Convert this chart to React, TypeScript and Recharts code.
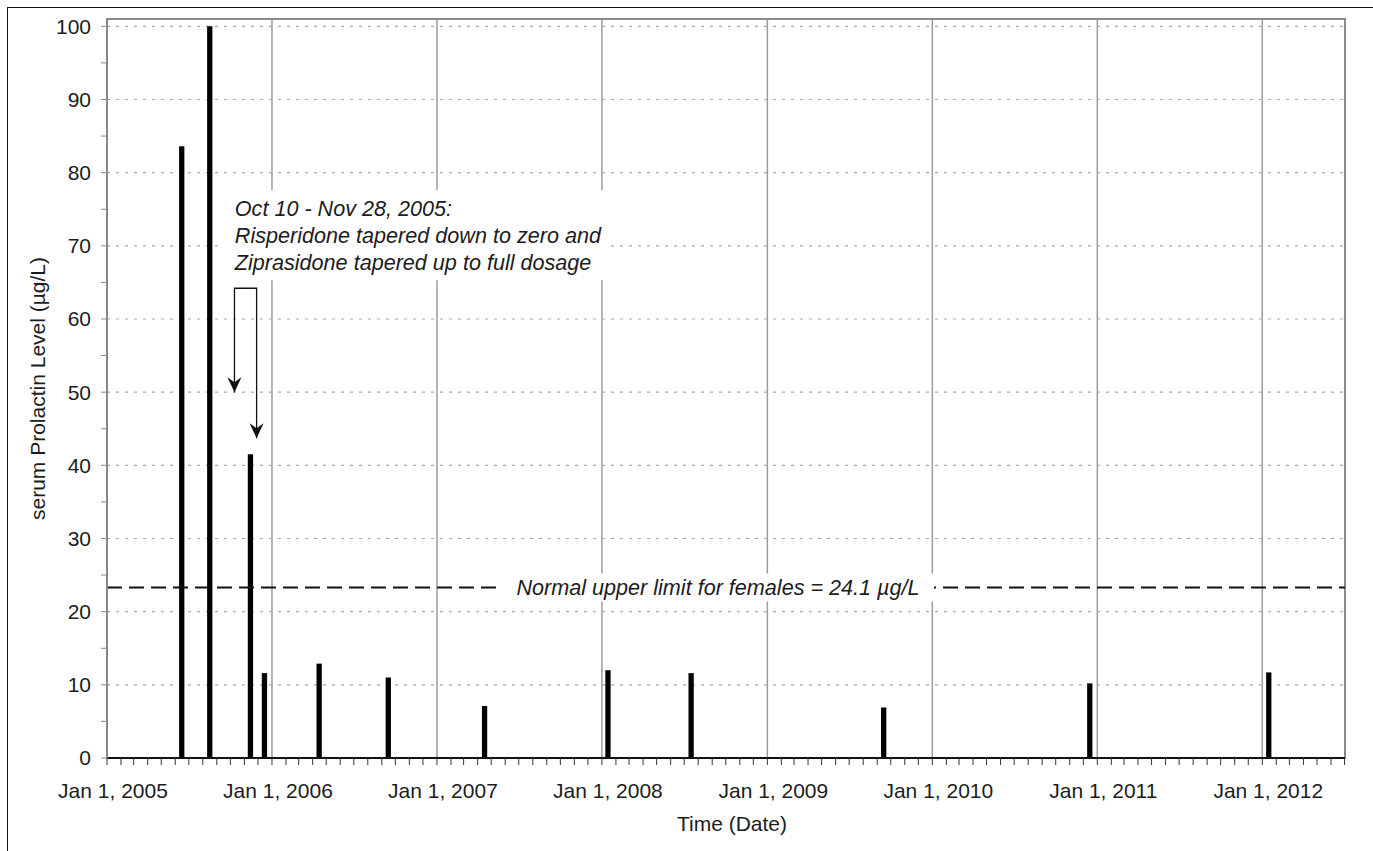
import { Bar, CartesianGrid, ComposedChart, Line, ReferenceArea, ReferenceLine, XAxis, YAxis } from "recharts"

const FONT = '"Liberation Sans", Arial, Helvetica, sans-serif'
const TEXT = "#1c1c1c"

// measurement dates and serum prolactin (µg/L)
const DATES = [
    "2005-06-16", "2005-08-17", "2005-11-15", "2005-12-16", "2006-04-16", "2006-09-16",
    "2007-04-17", "2008-01-15", "2008-07-17", "2009-09-16", "2010-12-16", "2012-01-16",
]
const PROLACTIN = [83.6, 100, 41.5, 11.6, 12.9, 11.0, 7.1, 12.0, 11.6, 6.9, 10.2, 11.7]

const YEARS = [2005, 2006, 2007, 2008, 2009, 2010, 2011, 2012]
const X_START = Date.parse("2005-01-01")
const X_END = Date.parse("2012-07-02")
const Y_MAX = 101
const Y_TICKS = [0, 5, 10, 15, 20, 25, 30, 35, 40, 45, 50, 55, 60, 65, 70, 75, 80, 85, 90, 95, 100]
const Y_GRID = [0, 10, 20, 30, 40, 50, 60, 70, 80, 90, 100]

// drawn height of the reference line and its label
const UPPER_LIMIT = 23.3
const UPPER_LIMIT_LABEL = "Normal upper limit for females = 24.1 µg/L"

// switch-over note and its two arrows (Oct 10 / Nov 28, 2005)
const NOTE_LINES = [
    "Oct 10 - Nov 28, 2005:",
    "Risperidone tapered down to zero and",
    "Ziprasidone tapered up to full dosage",
]
const NOTE_BOX_X = ["2005-09-12", "2008-01-14"]
const NOTE_BOX_Y = [65.3, 77.6]
const ARROW_DATES = ["2005-10-10", "2005-11-28"]
const ARROW_TIPS = [50, 43.7]
const ARROW_TOP = 64.2

const data = DATES.map((d, i) => ({ t: Date.parse(d), v: PROLACTIN[i] }))

const bracket = [
    { t: Date.parse(ARROW_DATES[0]), v: ARROW_TIPS[0] },
    { t: Date.parse(ARROW_DATES[0]), v: ARROW_TOP },
    { t: Date.parse(ARROW_DATES[1]), v: ARROW_TOP },
    { t: Date.parse(ARROW_DATES[1]), v: ARROW_TIPS[1] },
]

const monthTicks = YEARS.flatMap((y) => Array.from({ length: 12 }, (_, m) => Date.UTC(y, m, 1))).filter(
    (t) => t <= X_END
)
const yearTicks = YEARS.map((y) => Date.UTC(y, 0, 1))

const formatDate = (t: number) => {
    const d = new Date(t)
    return d.getUTCMonth() === 0 ? `Jan 1, ${d.getUTCFullYear()}` : ""
}

const ArrowDot = (p: any) => {
    if (p.index !== 0 && p.index !== bracket.length - 1) return <g key={`d${p.index}`} />
    const { cx, cy } = p
    return (
        <path
            key={`d${p.index}`}
            d={`M${cx},${cy} L${cx - 7},${cy - 15} L${cx},${cy - 10} L${cx + 7},${cy - 15} Z`}
            fill="#111"
        />
    )
}

const NoteBox = (p: any) => (
    <g>
        <rect x={p.x} y={p.y} width={p.width} height={p.height} fill="#fff" />
        {NOTE_LINES.map((line, i) => (
            <text
                key={i}
                x={p.x + 13}
                y={p.y + 26 + i * 27}
                fontFamily={FONT}
                fontSize={21.6}
                fontStyle="italic"
                fill={TEXT}
            >
                {line}
            </text>
        ))}
    </g>
)

const LimitLine = (p: any) => {
    const mid = (p.x1 + p.x2) / 2 - 8
    return (
        <g>
            <line x1={p.x1} y1={p.y1} x2={p.x2} y2={p.y2} stroke="#111" strokeWidth={2} strokeDasharray="15 7" />
            <rect x={mid - 216} y={p.y1 - 14} width={432} height={28} fill="#fff" />
            <text
                x={mid}
                y={p.y1}
                dy="0.35em"
                textAnchor="middle"
                fontFamily={FONT}
                fontSize={21.6}
                fontStyle="italic"
                fill={TEXT}
            >
                {UPPER_LIMIT_LABEL}
            </text>
        </g>
    )
}

const YTitle = ({ viewBox }: any) => {
    const x = viewBox.x + 37
    const y = viewBox.y + viewBox.height / 2
    return (
        <text
            x={x}
            y={y}
            transform={`rotate(-90 ${x} ${y})`}
            textAnchor="middle"
            dominantBaseline="central"
            fontFamily={FONT}
            fontSize={21}
            fill={TEXT}
        >
            serum Prolactin Level (µg/L)
        </text>
    )
}

const XTitle = ({ viewBox }: any) => (
    <text
        x={viewBox.x + viewBox.width / 2 + 6}
        y={viewBox.y + 65}
        textAnchor="middle"
        dominantBaseline="central"
        fontFamily={FONT}
        fontSize={21}
        fill={TEXT}
    >
        Time (Date)
    </text>
)

const App = () => (
    <div style={{ position: "absolute", left: 0, top: 0, width: 1373, height: 851, background: "#fff" }}>
        <div
            style={{
                position: "absolute",
                left: 7,
                top: 7,
                right: 0,
                bottom: 0,
                borderLeft: "1.5px solid #111",
                borderTop: "1.5px solid #111",
            }}
        />
        <ComposedChart
            width={1373}
            height={851}
            data={data}
            margin={{ top: 19, right: 28, left: 0, bottom: 33 }}
            style={{ position: "absolute", left: 0, top: 0 }}
        >
            <CartesianGrid horizontal={false} verticalValues={yearTicks} stroke="#9c9c9c" strokeWidth={1.5} />
            <CartesianGrid
                vertical={false}
                horizontalValues={Y_GRID}
                stroke="#a8a8a8"
                strokeWidth={1.2}
                strokeDasharray="3 6"
            />
            <XAxis
                dataKey="t"
                type="number"
                scale="time"
                domain={[X_START, X_END]}
                allowDataOverflow
                ticks={monthTicks}
                interval={0}
                tickFormatter={formatDate}
                tickSize={7}
                tickMargin={18}
                height={60}
                tick={{ fontSize: 21, fill: TEXT, fontFamily: FONT, dx: 6 }}
                tickLine={{ stroke: "#333" }}
                axisLine={{ stroke: "#111", strokeWidth: 2 }}
                label={XTitle}
            />
            <YAxis
                type="number"
                domain={[0, Y_MAX]}
                allowDataOverflow
                ticks={Y_TICKS}
                interval={0}
                tickFormatter={(v: number) => (v % 10 === 0 ? String(v) : "")}
                tickSize={6}
                tickMargin={10}
                width={107}
                tick={{ fontSize: 21, fill: TEXT, fontFamily: FONT }}
                tickLine={{ stroke: "#888" }}
                axisLine={{ stroke: "#888", strokeWidth: 2 }}
                label={YTitle}
            />
            <ReferenceArea
                x1={X_START}
                x2={X_END}
                y1={0}
                y2={Y_MAX}
                fill="none"
                stroke="#8a8a8a"
                strokeWidth={2}
            />
            <ReferenceArea
                x1={Date.parse(NOTE_BOX_X[0])}
                x2={Date.parse(NOTE_BOX_X[1])}
                y1={NOTE_BOX_Y[0]}
                y2={NOTE_BOX_Y[1]}
                shape={NoteBox}
            />
            <ReferenceLine y={UPPER_LIMIT} shape={LimitLine} />
            <Bar dataKey="v" fill="#000" barSize={6} isAnimationActive={false} />
            <Line
                data={bracket}
                dataKey="v"
                type="linear"
                stroke="#111"
                strokeWidth={1.3}
                dot={ArrowDot}
                activeDot={false}
                isAnimationActive={false}
            />
        </ComposedChart>
    </div>
)

export default App
